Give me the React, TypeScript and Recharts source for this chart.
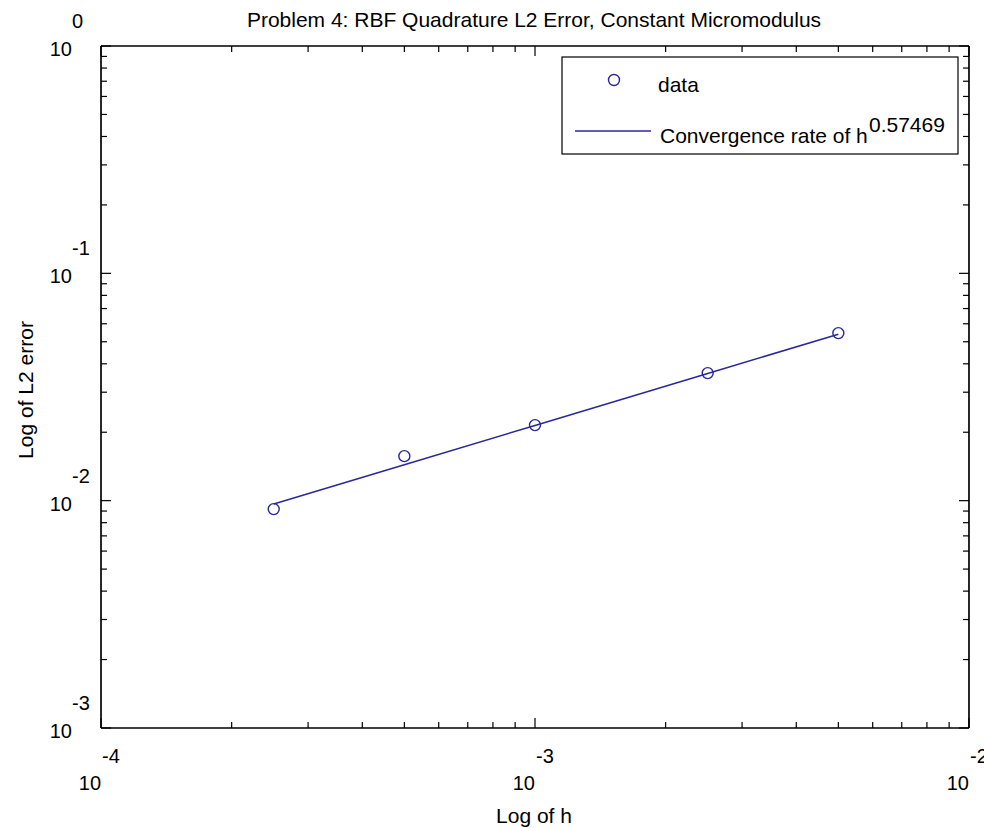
import { ComposedChart, Line, Scatter, XAxis, YAxis } from "recharts";

const H = [2.5e-4, 5e-4, 1e-3, 2.5e-3, 5e-3];
const L2_ERROR = [0.00918, 0.0157, 0.0215, 0.0364, 0.0546];
const FIT = [0.00966, 0.01438, 0.02142, 0.03626, 0.054];

const X_MAJOR = [1e-4, 1e-3, 1e-2];
const X_MINOR = [
  2e-4, 3e-4, 4e-4, 5e-4, 6e-4, 7e-4, 8e-4, 9e-4,
  2e-3, 3e-3, 4e-3, 5e-3, 6e-3, 7e-3, 8e-3, 9e-3,
];
const Y_MAJOR = [1e-3, 1e-2, 1e-1, 1];
const Y_MINOR = [
  2e-3, 3e-3, 4e-3, 5e-3, 6e-3, 7e-3, 8e-3, 9e-3,
  2e-2, 3e-2, 4e-2, 5e-2, 6e-2, 7e-2, 8e-2, 9e-2,
  0.2, 0.3, 0.4, 0.5, 0.6, 0.7, 0.8, 0.9,
];

const TITLE = "Problem 4: RBF Quadrature L2 Error, Constant Micromodulus";
const X_LABEL = "Log of h";
const Y_LABEL = "Log of L2 error";
const RATE = "0.57469";

const W = 984;
const HGT = 828;
const MARGIN = { top: 46, right: 15, bottom: 100, left: 101 };
const PLOT_BOTTOM = HGT - MARGIN.bottom;
const PLOT_LEFT = MARGIN.left;
const BLUE = "#28289c";
const FONT = "'Liberation Sans', Arial, sans-serif";
// axes need a non-zero size or recharts skips them
const THIN = 0.01;

const rows = H.map((h, i) => ({ h, err: L2_ERROR[i], fit: FIT[i] }));

const exp10 = (v: number) => Math.round(Math.log10(v));

function XTick(props: any) {
  const x = props.payload.coordinate;
  return (
    <g fontFamily={FONT} fontSize={20} fill="#000">
      <text x={x + 1} y={PLOT_BOTTOM + 35} textAnchor="start">
        {exp10(props.payload.value)}
      </text>
      <text x={x} y={PLOT_BOTTOM + 62} textAnchor="end">
        10
      </text>
    </g>
  );
}

function YTick(props: any) {
  const y = props.payload.coordinate;
  return (
    <g fontFamily={FONT} fontSize={20} fill="#000">
      <text x={PLOT_LEFT - 29} y={y - 18} textAnchor="start">
        {exp10(props.payload.value)}
      </text>
      <text x={PLOT_LEFT - 29} y={y + 10} textAnchor="end">
        10
      </text>
    </g>
  );
}

function NoLabel() {
  return <g />;
}

function Ring(props: any) {
  return <circle cx={props.cx} cy={props.cy} r={5.5} fill="none" stroke={BLUE} strokeWidth={1.4} />;
}

const axisLine = { stroke: "#000", strokeWidth: 1.2 };
const tickLine = { stroke: "#000", strokeWidth: 1.2 };

export default function App() {
  const xCommon = {
    type: "number" as const,
    dataKey: "h",
    scale: "log" as const,
    domain: [1e-4, 1e-2],
    allowDataOverflow: true,
    height: THIN,
    axisLine,
    tickLine,
    interval: 0 as const,
  };
  const yCommon = {
    type: "number" as const,
    scale: "log" as const,
    domain: [1e-3, 1],
    allowDataOverflow: true,
    width: THIN,
    axisLine,
    tickLine,
    interval: 0 as const,
  };

  // negative tick sizes point the marks into the plot box
  return (
    <div style={{ position: "absolute", left: 0, top: 0, width: W, height: HGT, background: "#fff" }}>
      <ComposedChart width={W} height={HGT} data={rows} margin={MARGIN}>
        <XAxis xAxisId="main" orientation="bottom" {...xCommon} ticks={X_MAJOR} tickSize={-10} tick={<XTick />} />
        <XAxis xAxisId="minor" orientation="bottom" {...xCommon} ticks={X_MINOR} tickSize={-6} tick={<NoLabel />} />
        <XAxis xAxisId="topMajor" orientation="top" {...xCommon} ticks={X_MAJOR} tickSize={-10} tick={<NoLabel />} />
        <XAxis xAxisId="topMinor" orientation="top" {...xCommon} ticks={X_MINOR} tickSize={-6} tick={<NoLabel />} />
        <YAxis yAxisId="main" orientation="left" {...yCommon} ticks={Y_MAJOR} tickSize={-10} tick={<YTick />} />
        <YAxis yAxisId="minor" orientation="left" {...yCommon} ticks={Y_MINOR} tickSize={-6} tick={<NoLabel />} />
        <YAxis yAxisId="rightMajor" orientation="right" {...yCommon} ticks={Y_MAJOR} tickSize={-10} tick={<NoLabel />} />
        <YAxis yAxisId="rightMinor" orientation="right" {...yCommon} ticks={Y_MINOR} tickSize={-6} tick={<NoLabel />} />
        <Line
          xAxisId="main"
          yAxisId="main"
          dataKey="fit"
          type="linear"
          stroke={BLUE}
          strokeWidth={1.5}
          dot={false}
          isAnimationActive={false}
        />
        <Scatter xAxisId="main" yAxisId="main" dataKey="err" shape={<Ring />} isAnimationActive={false} />
      </ComposedChart>
      <svg
        width={W}
        height={HGT}
        style={{ position: "absolute", left: 0, top: 0, pointerEvents: "none" }}
        fontFamily={FONT}
        fontSize={21}
      >
        <text x={534} y={27} textAnchor="middle">
          {TITLE}
        </text>
        <text x={534} y={823} textAnchor="middle">
          {X_LABEL}
        </text>
        <text x={33} y={390} textAnchor="middle" transform="rotate(-90 33 390)">
          {Y_LABEL}
        </text>
        <rect x={562} y={57} width={396} height={97} fill="#fff" stroke="#000" strokeWidth={1.2} />
        <circle cx={614} cy={80} r={5.5} fill="none" stroke={BLUE} strokeWidth={1.4} />
        <text x={658} y={92}>data</text>
        <line x1={575} y1={131} x2={651} y2={131} stroke={BLUE} strokeWidth={1.5} />
        <text x={660} y={143}>Convergence rate of h</text>
        <text x={869} y={132}>{RATE}</text>
      </svg>
    </div>
  );
}
